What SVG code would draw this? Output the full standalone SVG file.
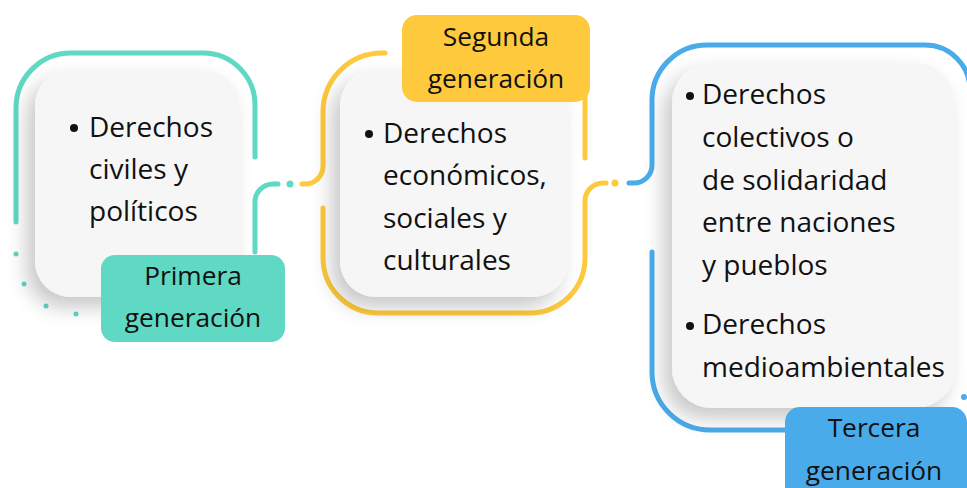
<svg xmlns="http://www.w3.org/2000/svg" width="967" height="488" viewBox="0 0 967 488">
<defs>
<filter id="sh" x="-30%" y="-30%" width="160%" height="160%">
<feDropShadow dx="-8" dy="10" stdDeviation="10" flood-color="#000" flood-opacity="0.22"/>
</filter>
<style>
.card{fill:#f6f6f6;filter:url(#sh)}
.t{font-family:"Open Sans","Noto Sans",sans-serif;font-size:28px;fill:#111}
.lt{font-family:"Open Sans","Noto Sans",sans-serif;font-size:26.3px;fill:#111;text-anchor:middle}
.ln{fill:none;stroke-width:5;stroke-linecap:round}
.teal{stroke:#5fd8c4}.yel{stroke:#fec93d}.blu{stroke:#4aabeb}
</style>
</defs>
<rect width="967" height="488" fill="#fff"/>
<g id="connectors">
<path class="ln teal" d="M16,222 V108 A55,55 0 0 1 71,53 H203 A52,52 0 0 1 255,105 V157"/>
<path class="ln teal" d="M255,252 V202 A18,18 0 0 1 273,184 H278"/>
<circle cx="290" cy="184" r="3.5" fill="#5fd8c4"/>
<circle cx="16" cy="254" r="2.5" fill="#5fd8c4"/>
<circle cx="24" cy="284" r="2.5" fill="#5fd8c4"/>
<circle cx="46" cy="306" r="2.5" fill="#5fd8c4"/>
<circle cx="76" cy="314" r="2.5" fill="#5fd8c4"/>
<path class="ln yel" d="M302,184 H305 A18,18 0 0 0 323,166 V112 A59,59 0 0 1 382,53 H385"/>
<path class="ln yel" d="M585,96 V158"/>
<path class="ln yel" d="M323,208 V258 A55,55 0 0 0 378,313 H530 A55,55 0 0 0 585,258 V201 A18,18 0 0 1 603,183 H606"/>
<circle cx="615" cy="183" r="3.5" fill="#fec93d"/>
<path class="ln blu" d="M629,183 H634 A18,18 0 0 0 652,165 V100 A55,55 0 0 1 707,45 H925 A45,45 0 0 1 970,90"/>
<path class="ln blu" d="M652,252 V372 A58,58 0 0 0 710,430 H792"/>
<circle cx="964" cy="397" r="3" fill="#4aabeb"/>
</g>
<g id="node1">
<rect class="card" x="35" y="70" width="205" height="227" rx="36"/>
<circle cx="74" cy="128" r="4" fill="#111"/>
<text class="t" x="89" y="137">Derechos</text>
<text class="t" x="89" y="179">civiles y</text>
<text class="t" x="89" y="221">políticos</text>
</g>
<g id="label1">
<rect x="101" y="255" width="184" height="87" rx="14" fill="#5fd8c4"/>
<text class="lt" x="193" y="285">Primera</text>
<text class="lt" x="193" y="327">generación</text>
</g>
<g id="node2">
<rect class="card" x="340" y="70" width="228" height="227" rx="36"/>
<circle cx="369" cy="134" r="4" fill="#111"/>
<text class="t" x="383" y="143">Derechos</text>
<text class="t" x="383" y="185">económicos,</text>
<text class="t" x="383" y="228">sociales y</text>
<text class="t" x="383" y="270">culturales</text>
</g>
<g id="label2">
<rect x="402" y="15" width="188" height="87" rx="15" fill="#fec93d"/>
<text class="lt" x="496" y="46">Segunda</text>
<text class="lt" x="496" y="88">generación</text>
</g>
<g id="node3">
<rect class="card" x="672" y="63" width="283" height="345" rx="40"/>
<circle cx="690" cy="96" r="4" fill="#111"/>
<text class="t" x="702" y="104">Derechos</text>
<text class="t" x="702" y="147">colectivos o</text>
<text class="t" x="702" y="190">de solidaridad</text>
<text class="t" x="702" y="232">entre naciones</text>
<text class="t" x="702" y="275">y pueblos</text>
<circle cx="690" cy="326" r="4" fill="#111"/>
<text class="t" x="702" y="334">Derechos</text>
<text class="t" x="702" y="377">medioambientales</text>
</g>
<g id="label3">
<rect x="785" y="407" width="182" height="95" rx="15" fill="#4aabeb"/>
<text class="lt" x="874" y="437">Tercera</text>
<text class="lt" x="874" y="480">generación</text>
</g>
</svg>
